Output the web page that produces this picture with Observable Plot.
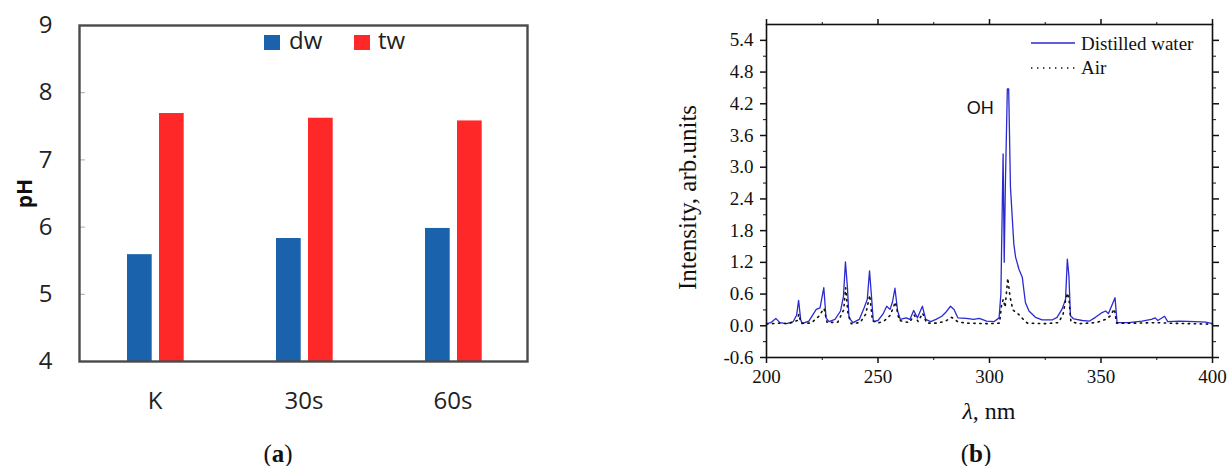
<!DOCTYPE html>
<html>
<head>
<meta charset="utf-8">
<script src="https://cdn.jsdelivr.net/npm/d3@7"></script>
<script src="https://cdn.jsdelivr.net/npm/@observablehq/plot@0.6"></script>
<style>
  html, body { margin: 0; padding: 0; background: #fff; }
  #fig { position: relative; width: 1227px; height: 466px; overflow: hidden; }
  .panel { position: absolute; top: 0; }
  .sw { position: absolute; width: 16px; height: 15px; }
  .lg { position: absolute; font-family: "Open Sans", sans-serif; font-size: 24px; line-height: 1; color: #222; }
  .lgb { position: absolute; font-family: "Liberation Serif", serif; font-size: 19px; line-height: 1; color: #111; white-space: nowrap; }
  .cap { position: absolute; font-family: "Liberation Serif", serif; font-size: 25px; line-height: 1; color: #111; transform: translateX(-50%); white-space: nowrap; }
  .xt { position: absolute; font-family: "Liberation Serif", serif; font-size: 24px; line-height: 1; color: #111; transform: translateX(-50%); white-space: nowrap; }
</style>
</head>
<body>
<div id="fig">
  <div id="pa" class="panel" style="left:0px"></div>
  <div id="pb" class="panel" style="left:640px"></div>

  <!-- legend, panel (a) -->
  <div class="sw" style="left:264px;top:35px;background:#1b62ac"></div>
  <div class="lg" style="left:289px;top:28px">dw</div>
  <div class="sw" style="left:354px;top:35px;background:#fe2828"></div>
  <div class="lg" style="left:378px;top:28px">tw</div>

  <!-- legend, panel (b) -->
  <svg style="position:absolute;left:1029px;top:36px" width="48" height="40">
    <line x1="2" x2="46" y1="7" y2="7" stroke="#2a2ad0" stroke-width="1.4"/>
    <line x1="2" x2="46" y1="32" y2="32" stroke="#111" stroke-width="1.6" stroke-dasharray="1.4 4.6"/>
  </svg>
  <div class="lgb" style="left:1081px;top:34px">Distilled water</div>
  <div class="lgb" style="left:1081px;top:58px">Air</div>

  <div class="xt" style="left:989px;top:399px"><i>λ</i>, nm</div>

  <div class="cap" style="left:278px;top:441px">(<b>a</b>)</div>
  <div class="cap" style="left:976px;top:441px">(<b>b</b>)</div>
</div>

<script>
// ---- (a) pH of distilled (dw) and tap (tw) water after treatment ----
const times = ["K", "30s", "60s"];
const phDw = [5.59, 5.83, 5.98];
const phTw = [7.69, 7.62, 7.58];
const phTicks = [4, 5, 6, 7, 8, 9];

// ---- (b) emission spectrum ----
const waterNm = [
  200, 202, 204.2, 206, 209, 212, 213.5, 214.4, 215.3, 216,
  219, 222.3, 224, 225.7, 226.7, 228, 230.7, 233.2, 234.5, 235.4,
  236.3, 237, 238.8, 241.6, 243.8, 245.2, 246.2, 247, 247.9, 250,
  252.2, 253.9, 255.4, 256.5, 257.6, 258.8, 260, 262.6, 264.3, 266,
  267.7, 269.9, 271.4, 273.6, 276, 278.6, 280.3, 282.5, 284.1, 285.8,
  289.5, 292.9, 295.4, 298.7, 302.1, 304.3, 305.1, 306.1, 306.6, 307.1,
  308, 308.6, 309.4, 310.9, 311.7, 313.2, 314.7, 316.1, 317.7, 320.6,
  323.6, 328.1, 330.3, 332.6, 334.1, 334.9, 335.6, 336.3, 337.8, 341.6,
  344.9, 347.5, 350.5, 352.1, 353.3, 356.3, 357.2, 362.4, 368.4, 372.6,
  374.3, 375.5, 378.5, 379.9, 385.2, 392, 397, 400
];
const waterI = [
  0.04, 0.06, 0.14, 0.06, 0.04, 0.08, 0.2, 0.48, 0.12, 0.04,
  0.09, 0.31, 0.34, 0.72, 0.15, 0.08, 0.12, 0.28, 0.55, 1.21,
  0.72, 0.15, 0.06, 0.12, 0.34, 0.5, 1.04, 0.6, 0.08, 0.1,
  0.22, 0.37, 0.31, 0.45, 0.71, 0.28, 0.12, 0.15, 0.12, 0.29,
  0.15, 0.37, 0.12, 0.08, 0.12, 0.18, 0.25, 0.37, 0.31, 0.15,
  0.14, 0.12, 0.14, 0.09, 0.08, 0.15, 0.6, 3.25, 1.2, 2.62,
  4.48, 4.48, 2.62, 1.55, 1.3, 1.07, 0.92, 0.44, 0.28, 0.16,
  0.11, 0.11, 0.16, 0.32, 0.5, 1.26, 0.95, 0.19, 0.13, 0.1,
  0.09, 0.16, 0.25, 0.28, 0.23, 0.53, 0.06, 0.06, 0.09, 0.12,
  0.15, 0.1, 0.18, 0.08, 0.09, 0.08, 0.07, 0.04
];
const airNm = [
  200, 205, 210, 213.8, 214.5, 215.5, 220, 223.5, 225.8, 227.2,
  232, 234.6, 235.5, 236.5, 238, 242, 244.5, 246.3, 247.5, 250,
  253, 255.5, 257.8, 259.5, 264, 266.3, 268, 270, 271.8, 276,
  280, 283, 286, 290, 300, 304.5, 305.5, 306.2, 307, 308.2,
  309.2, 310.5, 312, 313.5, 315.2, 317, 325, 331, 333, 334.2,
  335, 335.7, 336.5, 340, 348, 352, 354, 356, 357, 365,
  375, 380, 390, 400
];
const airI = [
  0.03, 0.05, 0.04, 0.1, 0.22, 0.05, 0.05, 0.18, 0.33, 0.06,
  0.07, 0.3, 0.72, 0.25, 0.04, 0.06, 0.22, 0.58, 0.1, 0.05,
  0.1, 0.2, 0.45, 0.1, 0.06, 0.2, 0.08, 0.24, 0.05, 0.05,
  0.08, 0.16, 0.07, 0.05, 0.04, 0.05, 0.42, 0.5, 0.35, 0.9,
  0.55, 0.3, 0.25, 0.2, 0.12, 0.05, 0.04, 0.06, 0.22, 0.5,
  0.62, 0.48, 0.08, 0.04, 0.06, 0.12, 0.18, 0.32, 0.05, 0.05,
  0.06, 0.05, 0.04, 0.03
];
const nmMajor = [200, 250, 300, 350, 400];
const nmMinor = [225, 275, 325, 375];
const intMajor = [-0.6, 0, 0.6, 1.2, 1.8, 2.4, 3.0, 3.6, 4.2, 4.8, 5.4];
const intMinor = [-0.3, 0.3, 0.9, 1.5, 2.1, 2.7, 3.3, 3.9, 4.5, 5.1];

const blue = "#1b62ac", red = "#fe2828";

// Panel (a): grouped bars, one band per treatment time
const chartA = Plot.plot({
  width: 560, height: 420,
  marginLeft: 79, marginRight: 33, marginTop: 25, marginBottom: 59,
  style: { fontFamily: "'Open Sans', sans-serif", fontSize: "24px", color: "#222", background: "transparent" },
  x: { type: "band", domain: times, padding: 0 },
  y: { domain: [4, 9] },
  marks: [
    Plot.barY(times, { x: d => d, y1: 4, y2: (d, i) => phDw[i], fill: blue, insetLeft: 47, insetRight: 77.3 }),
    Plot.barY(times, { x: d => d, y1: 4, y2: (d, i) => phTw[i], fill: red, insetLeft: 79, insetRight: 45.3 }),
    Plot.axisY({ ticks: phTicks, tickSize: 0, tickPadding: 27, label: null, tickFormat: d => String(d) }),
    Plot.axisY({ ticks: [5, 6, 7, 8], tickSize: -6, text: null, label: null, stroke: "#aaa" }),
    Plot.axisX({ tickSize: 0, tickPadding: 30, label: null }),
    Plot.frame({ stroke: "#4a4a4a", strokeWidth: 2.4 }),
    Plot.text(["pH"], { frameAnchor: "left", rotate: -90, dx: -54, dy: 0, textAnchor: "middle", lineAnchor: "middle", fontWeight: "bold", fontSize: 21, fill: "#111" })
  ]
});
document.getElementById("pa").appendChild(chartA);

// Panel (b): spectrum lines with boxed axes
const peak = d3.maxIndex(waterI);
const chartB = Plot.plot({
  width: 587, height: 430,
  marginLeft: 126, marginRight: 15, marginTop: 24, marginBottom: 73,
  style: { fontFamily: "'Liberation Serif', 'Times New Roman', serif", fontSize: "19px", color: "#111", background: "transparent" },
  x: { domain: [200, 400] },
  y: { domain: [-0.6, 5.7] },
  marks: [
    Plot.line(waterNm.map((x, i) => ({ x, y: waterI[i] })), { x: "x", y: "y", stroke: "#2a2ad0", strokeWidth: 1.3 }),
    Plot.line(airNm.map((x, i) => ({ x, y: airI[i] })), { x: "x", y: "y", stroke: "#111", strokeWidth: 1.6, strokeDasharray: "1.4 4.6" }),
    Plot.axisY({ ticks: intMajor, tickSize: 6, tickPadding: 7, label: null, tickFormat: d => d.toFixed(1), strokeWidth: 1.5 }),
    Plot.axisY({ ticks: intMinor, tickSize: 3, text: null, label: null }),
    Plot.axisY({ anchor: "right", ticks: intMajor, tickSize: 6, text: null, label: null, strokeWidth: 1.5 }),
    Plot.axisY({ anchor: "right", ticks: intMinor, tickSize: 3, text: null, label: null }),
    Plot.axisX({ ticks: nmMajor, tickSize: 6, tickPadding: 6, label: null, tickFormat: d => String(d), strokeWidth: 1.5 }),
    Plot.axisX({ ticks: nmMinor, tickSize: 3, text: null, label: null }),
    Plot.axisX({ anchor: "top", ticks: nmMajor, tickSize: 6, text: null, label: null, strokeWidth: 1.5 }),
    Plot.axisX({ anchor: "top", ticks: nmMinor, tickSize: 3, text: null, label: null }),
    Plot.frame({ stroke: "#111", strokeWidth: 1.6 }),
    Plot.text(["OH"], { x: () => waterNm[peak], y: () => waterI[peak], dx: -27, dy: 19, text: d => d, fontFamily: "'Liberation Sans', Arial, sans-serif", fontSize: 18, fill: "#111", lineAnchor: "middle" }),
    Plot.text(["Intensity, arb.units"], { frameAnchor: "left", rotate: -90, dx: -79, dy: 6.5, textAnchor: "middle", lineAnchor: "middle", fontSize: 25, fill: "#111" })
  ]
});
document.getElementById("pb").appendChild(chartB);
</script>
</body>
</html>
